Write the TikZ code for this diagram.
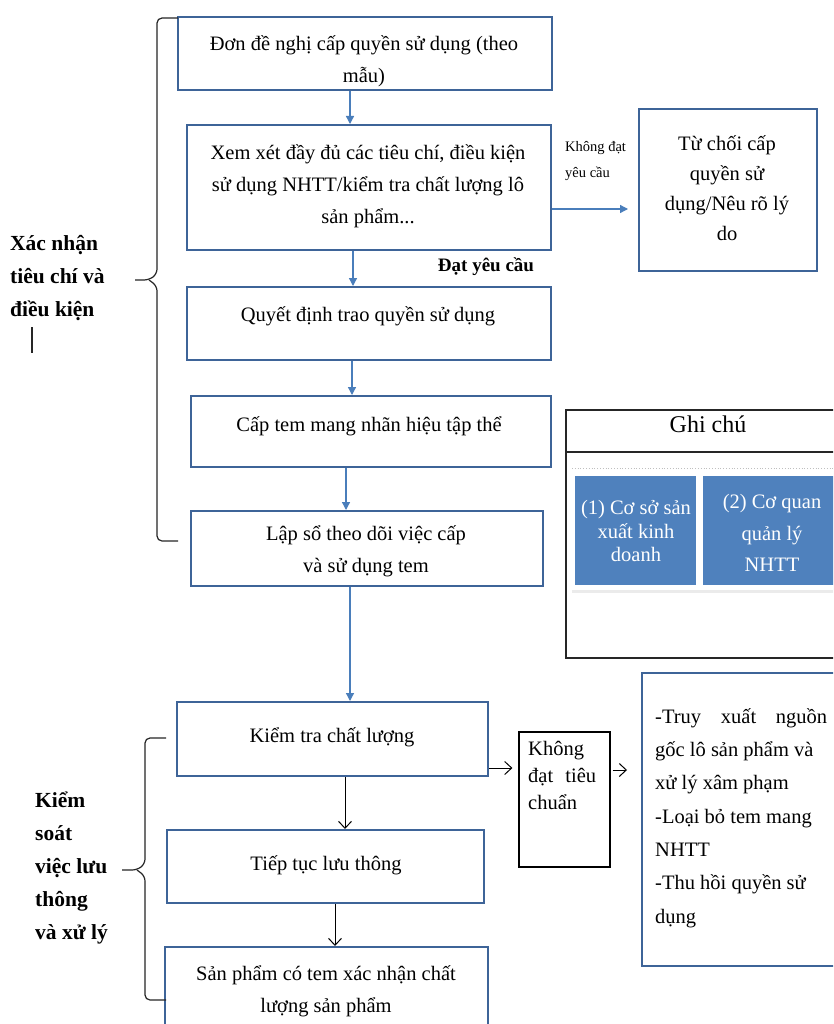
\documentclass[tikz,border=0pt]{standalone}
\usepackage{fontspec}
\setmainfont{Liberation Serif}
\usetikzlibrary{arrows.meta}
\definecolor{boxblue}{RGB}{62,100,152}
\definecolor{arrblue}{RGB}{74,126,187}
\definecolor{fillblue}{RGB}{79,129,189}
\begin{document}
\begin{tikzpicture}[x=1pt,y=-1pt,
 box/.style={draw=boxblue, line width=2pt, inner sep=0pt},
 tbox/.style={draw=black, line width=1.2pt, inner sep=0pt},
 gbox/.style={draw=black!85, line width=1.3pt, inner sep=0pt},
 bluebox/.style={fill=fillblue, inner sep=0pt},
 txt/.style={font=\fontsize{20.5}{32}\selectfont, align=center, inner sep=0pt},
 wtxt/.style={font=\fontsize{20.5}{23.5}\selectfont, align=center, inner sep=0pt, text=white},
 lbl/.style={font=\fontsize{21.5}{33}\selectfont\bfseries, align=left, inner sep=0pt, anchor=west},
 barr/.style={draw=arrblue, line width=1.3pt, -{Triangle[length=8pt,width=8pt]}},
 karr/.style={draw=black, line width=1pt, -{Straight Barb[length=7pt,width=13pt]}},
 brace/.style={draw=black!85, line width=1.2pt, rounded corners=5pt},
]
\useasboundingbox (0,0) rectangle (833,1024);
\fill[white] (0,0) rectangle (833,1024);
\clip (0,0) rectangle (833,1024);

% main column
\node[box, minimum width=374, minimum height=73] (b1) at (365,53.5) {};
\node[txt] (t1) at (364,61) {Đơn đề nghị cấp quyền sử dụng (theo\\mẫu)};
\node[box, minimum width=364, minimum height=125] (b2) at (369,187.5) {};
\node[txt] (t2) at (368,186) {Xem xét đầy đủ các tiêu chí, điều kiện\\sử dụng NHTT/kiểm tra chất lượng lô\\sản phẩm...};
\node[box, minimum width=364, minimum height=73] (b3) at (369,323.5) {};
\node[txt] (t3) at (368,316) {Quyết định trao quyền sử dụng};
\node[box, minimum width=360, minimum height=71] (b4) at (371,431.5) {};
\node[txt] (t4) at (369,426) {Cấp tem mang nhãn hiệu tập thể};
\node[box, minimum width=352, minimum height=75] (b5) at (367,548.5) {};
\node[txt] (t5) at (366,551) {Lập sổ theo dõi việc cấp\\và sử dụng tem};
\node[box, minimum width=311, minimum height=74] (b6) at (332.5,739) {};
\node[txt] (t6) at (332,737) {Kiểm tra chất lượng};
\node[box, minimum width=317, minimum height=73] (b7) at (325.5,866.5) {};
\node[txt] (t7) at (326,865) {Tiếp tục lưu thông};
\node[box, minimum width=323, minimum height=96] (b8) at (326.5,995) {};
\node[txt] (t8) at (326,991.5) {Sản phẩm có tem xác nhận chất\\lượng sản phẩm};

% reject box
\node[box, minimum width=178, minimum height=162] (r) at (728,190) {};
\node[txt, font=\fontsize{20.5}{30}\selectfont] (tr) at (727,188) {Từ chối cấp\\quyền sử\\dụng/Nêu rõ lý\\do};

% labels on arrows
\node[inner sep=0pt, anchor=west, align=left, font=\fontsize{14.5}{26}\selectfont] (lk) at (565,161) {Không đạt\\yêu cầu};
\node[inner sep=0pt, font=\fontsize{19}{22}\selectfont\bfseries] (ld) at (486,267) {Đạt yêu cầu};

% Khong dat tieu chuan box
\node[tbox, minimum width=91, minimum height=135] (k) at (564.5,799.5) {};
\node[inner sep=0pt, anchor=west, align=left, font=\fontsize{20.5}{27}\selectfont] (tk) at (528,775) {Không\\\hbox to 68pt{đạt\hfill tiêu}\\chuẩn};

% right action box
\node[box, minimum width=208, minimum height=293] (rb) at (746,819.5) {};
\node[inner sep=0pt, anchor=west, align=left, font=\fontsize{20.5}{33.3}\selectfont] (trb) at (655,818) {\hbox to 172pt{-Truy\hfill xuất\hfill nguồn}\\gốc lô sản phẩm và\\xử lý xâm phạm\\-Loại bỏ tem mang\\NHTT\\-Thu hồi quyền sử\\dụng};

% Ghi chu
\node[gbox, minimum width=284, minimum height=248] (g) at (708,534) {};
\draw[draw=black!85, line width=1.3pt] (566,452) -- (850,452);
\node[inner sep=0pt, font=\fontsize{24}{28}\selectfont] (gt) at (708,424) {Ghi chú};
\fill[black!8] (572,471) rectangle (701,593);
\fill[white] (570,468) rectangle (699,590);
\fill[black!8] (701,471) rectangle (850,593);
\fill[white] (699,468) rectangle (850,590);
\draw[black!25, dotted, line width=0.8pt] (572,468) -- (833,468);
\node[bluebox, minimum width=121, minimum height=109] (n1) at (635.5,530.5) {};
\node[wtxt] (tn1) at (636,531) {(1) Cơ sở sản\\xuất kinh\\doanh};
\node[bluebox, minimum width=138, minimum height=109] (n2) at (772,530.5) {};
\node[wtxt, font=\fontsize{20.5}{31.5}\selectfont] (tn2) at (772,533) {(2) Cơ quan\\quản lý\\NHTT};

% arrows
\draw[barr] ([xshift=-15pt]b1.south) -- ([xshift=-19pt]b2.north);
\draw[barr] ([xshift=-16pt]b2.south) -- ([xshift=-16pt]b3.north);
\draw[barr] ([xshift=-17pt]b3.south) -- ([xshift=-19pt]b4.north);
\draw[barr] ([xshift=-25pt]b4.south) -- ([xshift=-21pt]b5.north);
\draw[barr] ([xshift=-17pt]b5.south) -- ([xshift=17.5pt]b6.north);
\draw[karr] ([xshift=12.5pt]b6.south) -- ([xshift=19.5pt]b7.north);
\draw[karr] ([xshift=9.5pt]b7.south) -- ([xshift=8.5pt]b8.north);
\draw[barr, shorten >=10pt] ([yshift=-21.5pt]b2.east) -- ([yshift=-19pt]r.west);
\draw[karr, shorten >=6pt] ([yshift=-29pt]b6.east) -- ([yshift=31.5pt]k.west);
\draw[karr, shorten <=2pt, shorten >=14pt] ([yshift=29.5pt]k.east) -- ([yshift=49.5pt]rb.west);

% left labels and braces
\node[lbl] (L1) at (10,278) {Xác nhận\\tiêu chí và\\điều kiện};
\node[lbl] (L2) at (35,868) {Kiểm\\soát\\việc lưu\\thông\\và xử lý};
\draw[brace] (178,18) -- (157,18) -- (157,274) -- (149,280) -- (135,280);
\draw[brace] (149,280) -- (157,286) -- (157,541) -- (178,541);
\draw[brace] (166,738) -- (145,738) -- (145,864) -- (137,870) -- (122,870);
\draw[brace] (137,870) -- (145,876) -- (145,1000) -- (166,1000);
\draw[black!85, line width=1.2pt] (32,327) -- (32,353);
\end{tikzpicture}
\end{document}
